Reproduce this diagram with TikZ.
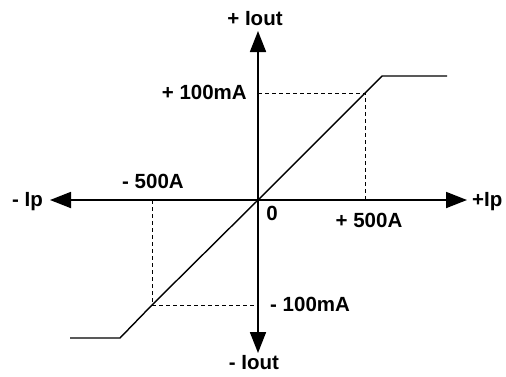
\documentclass[tikz,border=0pt]{standalone}
\usepackage{fontspec}
\setmainfont{Liberation Sans}
\usetikzlibrary{arrows.meta}
\begin{document}
\begin{tikzpicture}[x=1pt,y=-1pt,
  lbl/.style={inner sep=0pt,font=\fontsize{20.5}{24}\selectfont\bfseries},
  axis/.style={line width=1.8pt,-{Triangle[length=21pt,width=16pt]}},
  curve/.style={line width=1.4pt,line join=miter},
  guide/.style={line width=1pt,dash pattern=on 4pt off 3pt}]
\useasboundingbox (0,0) rectangle (506,376);
% key points
\coordinate (O) at (258,200);
\coordinate (top) at (258,31);
\coordinate (bot) at (258,353);
\coordinate (lft) at (50,200);
\coordinate (rgt) at (467,200);
\coordinate (pp) at (365,93);
\coordinate (pk) at (382,76);
\coordinate (pe) at (447,76);
\coordinate (nn) at (152,305);
\coordinate (nk) at (120,338);
\coordinate (ne) at (70,338);
\coordinate (ya) at (258,93);
\coordinate (yb) at (258,305);
\coordinate (xa) at (365,200);
\coordinate (xb) at (152,200);
% axes
\draw[axis] (O) -- (top);
\draw[axis] (O) -- (bot);
\draw[axis] (O) -- (lft);
\draw[axis] (O) -- (rgt);
% guides
\draw[guide] (ya) -- (pp) -- (xa);
\draw[guide] (xb) -- (nn) -- (yb);
% transfer curve
\draw[curve] (ne) -- (nk) -- (nn) -- (O) -- (pp) -- (pk) -- (pe);
% labels
\node[lbl,anchor=base] (tIout) at (255,25) {+ Iout};
\node[lbl,anchor=base] (bIout) at (254,369) {- Iout};
\node[lbl,anchor=base west] (mIp) at (12,206) {- Ip};
\node[lbl,anchor=base west] (pIp) at (472,206) {+Ip};
\node[lbl,anchor=base] (m500) at (153,188) {- 500A};
\node[lbl,anchor=base] (p500) at (369,227) {+ 500A};
\node[lbl,anchor=base] (zero) at (272,220) {0};
\node[lbl,anchor=base east] (p100) at (247,99) {+ 100mA};
\node[lbl,anchor=base west] (m100) at (270,311) {- 100mA};
\end{tikzpicture}
\end{document}
